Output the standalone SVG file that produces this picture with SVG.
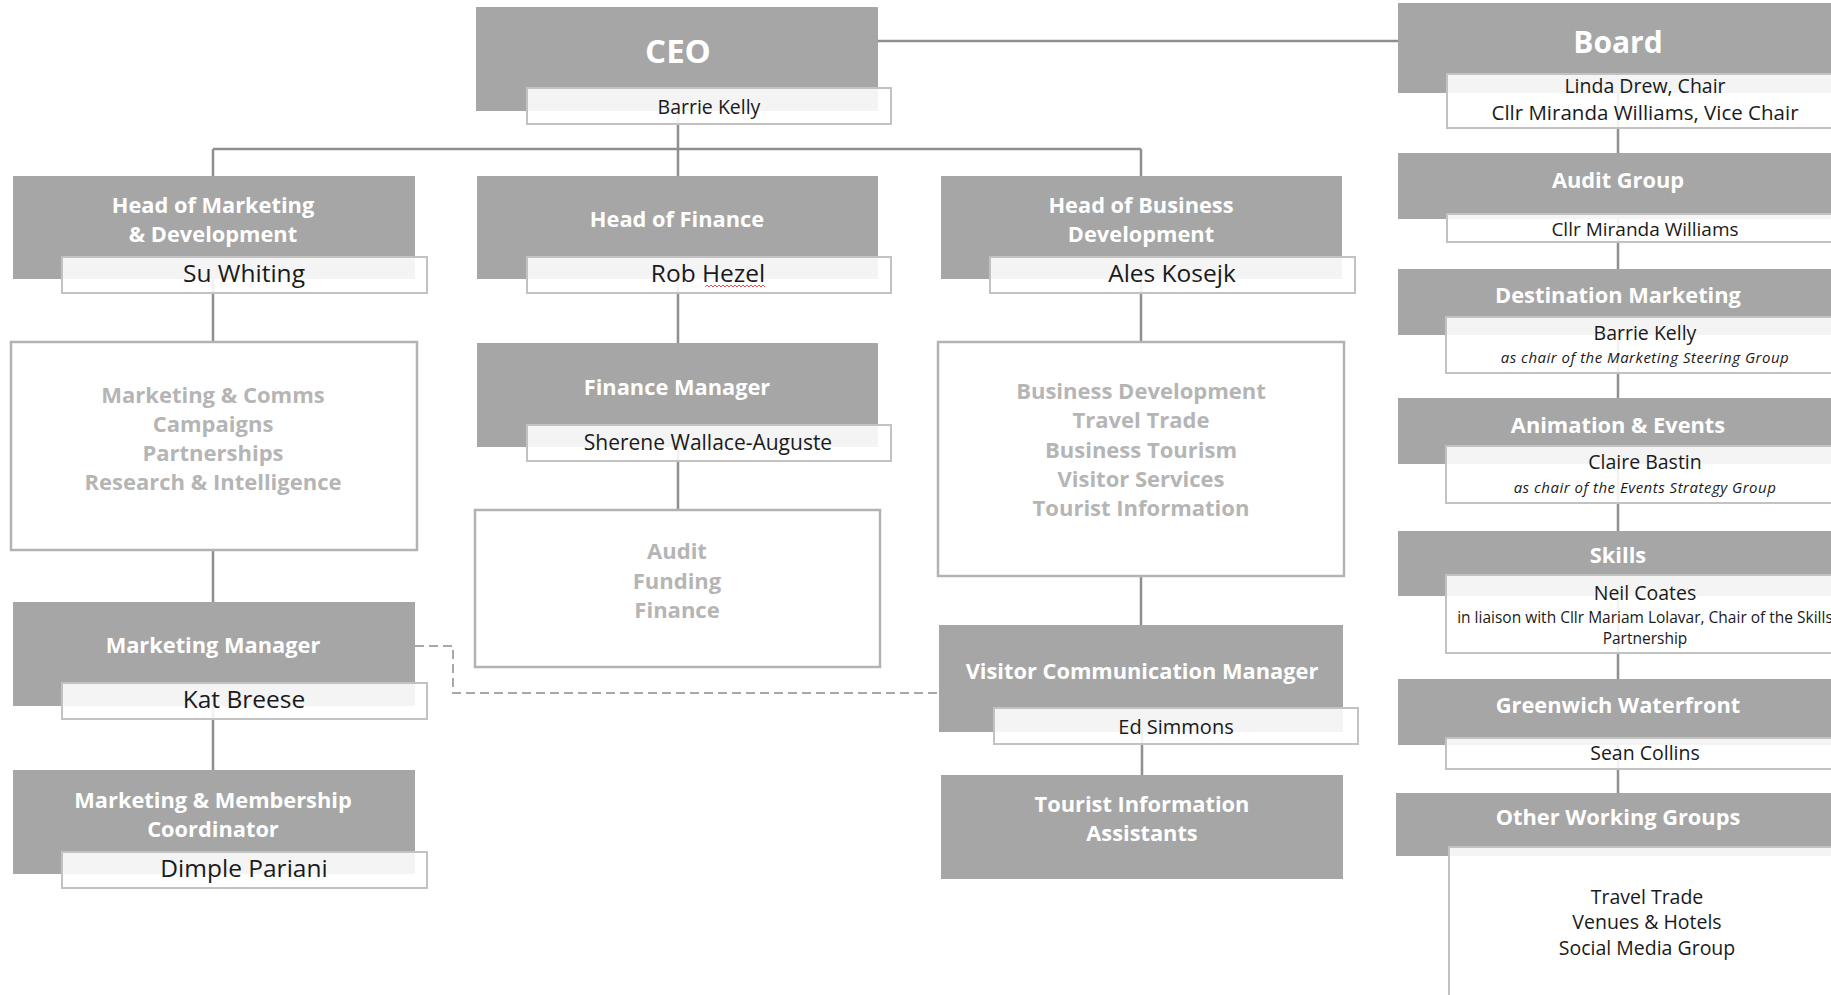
<svg xmlns="http://www.w3.org/2000/svg" width="1831" height="995" viewBox="0 0 1831 995">
<style>
.g{fill:#a6a6a6}
.n{fill:#ffffff;fill-opacity:0.88;stroke:#c2c2c2;stroke-width:2}
.b{fill:#ffffff;stroke:#b3b3b3;stroke-width:2.5}
.t{font-family:"Open Sans","Liberation Sans",sans-serif;font-weight:700;fill:#ffffff;text-anchor:middle;font-size:21.8px}
.p{font-family:"Open Sans","Liberation Sans",sans-serif;font-weight:400;fill:#1a1a1a;text-anchor:middle}
.l{font-family:"Open Sans","Liberation Sans",sans-serif;font-weight:700;fill:#b5b5b5;text-anchor:middle;font-size:22px}
.i{font-family:"Open Sans","Liberation Sans",sans-serif;font-style:italic;fill:#1a1a1a;text-anchor:middle;font-size:15px;letter-spacing:0.5px}
.c{fill:none;stroke:#8f8f8f;stroke-width:2.5}
.d{fill:none;stroke:#a8a8a8;stroke-width:2;stroke-dasharray:9 5}
</style>
<rect width="1831" height="995" fill="#ffffff"/>
<g id="connectors">
<path class="c" d="M878 41H1398"/>
<path class="c" d="M678 100V149M213 149H1141M213 149V176M678 149V176M1141 149V176"/>
<path class="c" d="M213 270V342M213 550V602M213 700V770"/>
<path class="c" d="M678 270V343M678 440V510"/>
<path class="c" d="M1141 270V342M1141 576V625M1142 720V775"/>
<path class="c" d="M1618 90V793"/>
<path class="d" d="M415 646H453V693H939"/>
</g>
<g id="ceo">
<rect class="g" x="476" y="7" width="402" height="104"/>
<rect class="n" x="527" y="88" width="364" height="36"/>
<text class="t" x="678" y="63" style="font-size:33px">CEO</text>
<text class="p" x="709" y="114" style="font-size:19.5px">Barrie Kelly</text>
</g>
<g id="head-marketing">
<rect class="g" x="13" y="176" width="402" height="103"/>
<rect class="n" x="62" y="257" width="365" height="36"/>
<text class="t" x="213" y="213">Head of Marketing</text>
<text class="t" x="213" y="242">&amp; Development</text>
<text class="p" x="244" y="282" style="font-size:24.5px">Su Whiting</text>
</g>
<g id="marketing-areas">
<rect class="b" x="11" y="342" width="406" height="208"/>
<text class="l" x="213" y="403">Marketing &amp; Comms</text>
<text class="l" x="213" y="432">Campaigns</text>
<text class="l" x="213" y="461">Partnerships</text>
<text class="l" x="213" y="490">Research &amp; Intelligence</text>
</g>
<g id="marketing-manager">
<rect class="g" x="13" y="602" width="402" height="104"/>
<rect class="n" x="62" y="683" width="365" height="36"/>
<text class="t" x="213" y="653">Marketing Manager</text>
<text class="p" x="244" y="708" style="font-size:24.5px">Kat Breese</text>
</g>
<g id="membership-coordinator">
<rect class="g" x="13" y="770" width="402" height="104"/>
<rect class="n" x="62" y="852" width="365" height="36"/>
<text class="t" x="213" y="808">Marketing &amp; Membership</text>
<text class="t" x="213" y="837">Coordinator</text>
<text class="p" x="244" y="877" style="font-size:24.5px">Dimple Pariani</text>
</g>
<g id="head-finance">
<rect class="g" x="477" y="176" width="401" height="103"/>
<rect class="n" x="527" y="257" width="364" height="36"/>
<text class="t" x="677" y="227">Head of Finance</text>
<text class="p" x="708" y="282" style="font-size:24.5px">Rob Hezel</text>
<path d="M705 287l2 -2l2 2l2 -2l2 2l2 -2l2 2l2 -2l2 2l2 -2l2 2l2 -2l2 2l2 -2l2 2l2 -2l2 2l2 -2l2 2l2 -2l2 2l2 -2l2 2l2 -2l2 2l2 -2l2 2l2 -2l2 2l2 -2l2 2" fill="none" stroke="#e05050" stroke-width="1"/>
</g>
<g id="finance-manager">
<rect class="g" x="477" y="343" width="401" height="104"/>
<rect class="n" x="527" y="425" width="364" height="36"/>
<text class="t" x="677" y="395">Finance Manager</text>
<text class="p" x="708" y="450" style="font-size:21px">Sherene Wallace-Auguste</text>
</g>
<g id="finance-areas">
<rect class="b" x="475" y="510" width="405" height="157"/>
<text class="l" x="677" y="559">Audit</text>
<text class="l" x="677" y="589">Funding</text>
<text class="l" x="677" y="618">Finance</text>
</g>
<g id="head-business">
<rect class="g" x="941" y="176" width="401" height="103"/>
<rect class="n" x="990" y="257" width="365" height="36"/>
<text class="t" x="1141" y="213">Head of Business</text>
<text class="t" x="1141" y="242">Development</text>
<text class="p" x="1172" y="282" style="font-size:24.5px">Ales Kosejk</text>
</g>
<g id="business-areas">
<rect class="b" x="938" y="342" width="406" height="234"/>
<text class="l" x="1141" y="399">Business Development</text>
<text class="l" x="1141" y="428">Travel Trade</text>
<text class="l" x="1141" y="458">Business Tourism</text>
<text class="l" x="1141" y="487">Visitor Services</text>
<text class="l" x="1141" y="516">Tourist Information</text>
</g>
<g id="visitor-comm-manager">
<rect class="g" x="939" y="625" width="404" height="107"/>
<rect class="n" x="994" y="708" width="364" height="36"/>
<text class="t" x="1142" y="679">Visitor Communication Manager</text>
<text class="p" x="1176" y="734" style="font-size:20px">Ed Simmons</text>
</g>
<g id="tourist-info-assistants">
<rect class="g" x="941" y="775" width="402" height="104"/>
<text class="t" x="1142" y="812">Tourist Information</text>
<text class="t" x="1142" y="841">Assistants</text>
</g>
<g id="board">
<rect class="g" x="1398" y="3" width="440" height="90"/>
<rect class="n" x="1447" y="74" width="400" height="54"/>
<text class="t" x="1618" y="53" style="font-size:30px">Board</text>
<text class="p" x="1645" y="93" style="font-size:19.5px">Linda Drew, Chair</text>
<text class="p" x="1645" y="120" style="font-size:20.5px">Cllr Miranda Williams, Vice Chair</text>
</g>
<g id="audit-group">
<rect class="g" x="1398" y="153" width="440" height="66"/>
<rect class="n" x="1447" y="214" width="400" height="28"/>
<text class="t" x="1618" y="188">Audit Group</text>
<text class="p" x="1645" y="236" style="font-size:19px">Cllr Miranda Williams</text>
</g>
<g id="destination-marketing">
<rect class="g" x="1398" y="269" width="440" height="66"/>
<rect class="n" x="1446" y="317" width="400" height="56"/>
<text class="t" x="1618" y="303">Destination Marketing</text>
<text class="p" x="1645" y="340" style="font-size:19.5px">Barrie Kelly</text>
<text class="i" x="1645" y="363">as chair of the Marketing Steering Group</text>
</g>
<g id="animation-events">
<rect class="g" x="1398" y="398" width="440" height="66"/>
<rect class="n" x="1446" y="446" width="400" height="57"/>
<text class="t" x="1618" y="433">Animation &amp; Events</text>
<text class="p" x="1645" y="469" style="font-size:19.5px">Claire Bastin</text>
<text class="i" x="1645" y="493">as chair of the Events Strategy Group</text>
</g>
<g id="skills">
<rect class="g" x="1398" y="531" width="440" height="65"/>
<rect class="n" x="1446" y="575" width="400" height="78"/>
<text class="t" x="1618" y="563">Skills</text>
<text class="p" x="1645" y="600" style="font-size:19.5px">Neil Coates</text>
<text class="p" x="1645" y="623" style="font-size:15.5px">in liaison with Cllr Mariam Lolavar, Chair of the Skills</text>
<text class="p" x="1645" y="644" style="font-size:15.5px">Partnership</text>
</g>
<g id="greenwich-waterfront">
<rect class="g" x="1398" y="679" width="440" height="66"/>
<rect class="n" x="1446" y="738" width="400" height="31"/>
<text class="t" x="1618" y="713">Greenwich Waterfront</text>
<text class="p" x="1645" y="760" style="font-size:19.5px">Sean Collins</text>
</g>
<g id="other-working-groups">
<rect class="g" x="1396" y="793" width="442" height="63"/>
<rect class="n" x="1449" y="847" width="400" height="160"/>
<text class="t" x="1618" y="825">Other Working Groups</text>
<text class="p" x="1647" y="904" style="font-size:19.5px">Travel Trade</text>
<text class="p" x="1647" y="929" style="font-size:19.5px">Venues &amp; Hotels</text>
<text class="p" x="1647" y="955" style="font-size:19.5px">Social Media Group</text>
</g>
</svg>
